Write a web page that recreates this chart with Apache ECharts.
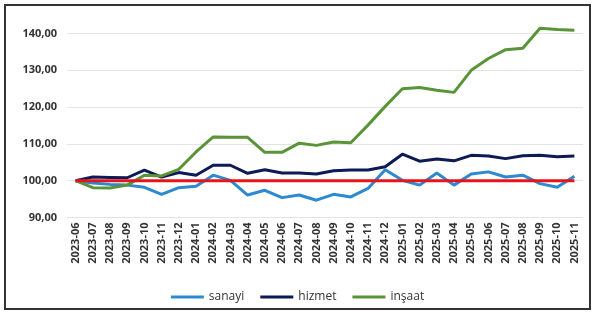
<!DOCTYPE html>
<html><head><meta charset="utf-8">
<script src="https://cdn.jsdelivr.net/npm/echarts@6/dist/echarts.min.js"></script>
<style>html,body{margin:0;padding:0;background:#fff}#c{width:595px;height:316px}</style>
</head><body><div id="c"></div>
<script>
const categories = ['2023-06','2023-07','2023-08','2023-09','2023-10','2023-11','2023-12',
'2024-01','2024-02','2024-03','2024-04','2024-05','2024-06','2024-07','2024-08','2024-09','2024-10','2024-11','2024-12',
'2025-01','2025-02','2025-03','2025-04','2025-05','2025-06','2025-07','2025-08','2025-09','2025-10','2025-11'];
const sanayi = [100.0,99.4,99.0,98.8,98.2,96.3,98.1,98.5,101.5,100.1,96.1,97.4,95.4,96.1,94.7,96.3,95.6,97.9,103.0,100.1,98.8,102.1,98.8,101.8,102.4,101.0,101.5,99.2,98.2,101.2];
const hizmet = [100.0,101.0,100.9,100.8,102.9,101.0,102.2,101.5,104.2,104.2,102.0,103.0,102.1,102.1,101.8,102.7,102.9,102.9,103.8,107.2,105.3,105.9,105.4,106.9,106.7,106.0,106.8,106.9,106.5,106.7];
const insaat = [100.0,98.1,98.0,98.8,101.5,101.3,103.1,107.8,111.9,111.8,111.8,107.7,107.7,110.2,109.6,110.5,110.3,115.1,120.2,125.0,125.3,124.6,124.0,130.0,133.2,135.6,136.0,141.4,141.1,140.9];
const baseline = categories.map(() => 100);
const yTicks = {min: 90, max: 140, interval: 10};

const chart = echarts.init(document.getElementById('c'));
const font = '"Open Sans", "Noto Sans", sans-serif';
function line(name, data, color, z) {
  return {name, type:'line', data, symbol:'none', z, clip:false, lineStyle:{color, width:3}, itemStyle:{color}};
}
chart.setOption({
  animation:false,
  graphic:[{type:'rect', shape:{x:5, y:5, width:585, height:304}, style:{fill:'none', stroke:'#333', lineWidth:2}}],
  grid:{left:67, right:12, top:33.5, bottom:98.5, containLabel:false},
  legend:{data:['sanayi','hizmet','inşaat'], bottom:8, left:'center', icon:'rect', itemWidth:33, itemHeight:3, itemGap:16,
    textStyle:{fontFamily:font, fontSize:12, color:'#333'}},
  xAxis:{type:'category', data:categories, boundaryGap:true,
    axisLine:{show:false}, axisTick:{show:false},
    axisLabel:{rotate:90, interval:0, fontFamily:font, fontSize:11, fontWeight:'bold', color:'#333', margin:5}},
  yAxis:{type:'value', min:yTicks.min, max:yTicks.max, interval:yTicks.interval,
    axisLine:{show:false}, axisTick:{show:false},
    splitLine:{lineStyle:{color:'#e4e4e4', width:1}},
    axisLabel:{fontFamily:font, fontSize:11, fontWeight:'bold', color:'#333', margin:10,
      formatter:v => v.toFixed(2).replace('.', ',')}},
  series:[
    line('sanayi', sanayi, '#2b8ad0', 3),
    line('hizmet', hizmet, '#0c1a55', 4),
    line('inşaat', insaat, '#5a9438', 5),
    {name:'base', type:'line', data:baseline, symbol:'none', z:6, lineStyle:{color:'#e8141c', width:3}}
  ]
});
</script></body></html>
